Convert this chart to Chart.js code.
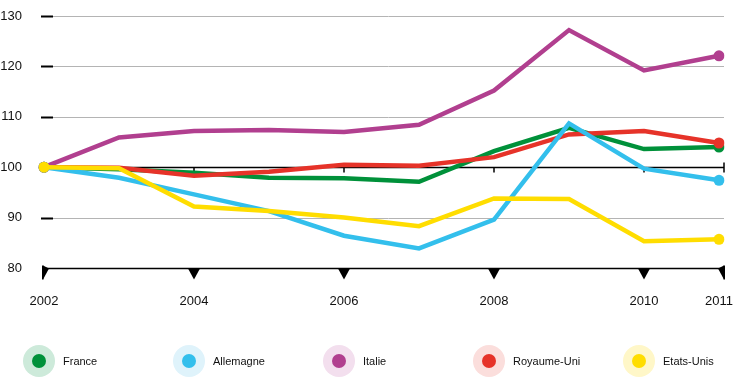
<!DOCTYPE html>
<html>
<head>
<meta charset="utf-8">
<script src="https://cdn.jsdelivr.net/npm/chart.js@4.4.1/dist/chart.umd.min.js"></script>
<style>
  html, body { margin: 0; padding: 0; background: #fff; }
  #wrap { position: relative; width: 738px; height: 389px; }
  #legend { position: absolute; left: 0; top: 345px; width: 738px; height: 32px; font-family: 'Liberation Sans', Arial, sans-serif; font-size: 11px; color: #111; }
  .item { position: absolute; top: 0; height: 32px; display: flex; align-items: center; }
  .halo { width: 32px; height: 32px; border-radius: 50%; display: flex; align-items: center; justify-content: center; margin-right: 8px; }
  .dot { width: 14px; height: 14px; border-radius: 50%; }
</style>
</head>
<body>
<div id="wrap">
  <canvas id="indexChart" width="738" height="389"></canvas>
  <div id="legend"></div>
</div>
<script>
const years = ['2002', '2003', '2004', '2005', '2006', '2007', '2008', '2009', '2010', '2011'];
const shownYears = ['2002', '2004', '2006', '2008', '2010', '2011'];
const yTicks = [80, 90, 100, 110, 120, 130];

const france = [100, 99.6, 98.9, 97.9, 97.8, 97.1, 103.2, 107.8, 103.6, 104.0];
const allemagne = [100, 97.9, 94.6, 91.3, 86.4, 83.9, 89.6, 108.7, 99.7, 97.4];
const italie = [100, 105.9, 107.2, 107.4, 107.0, 108.4, 115.2, 127.2, 119.2, 122.1];
const royaumeUni = [100, 99.9, 98.3, 99.1, 100.5, 100.3, 102.0, 106.5, 107.2, 104.8];
const etatsUnis = [100, 99.8, 92.2, 91.3, 90.0, 88.3, 93.8, 93.7, 85.3, 85.7];

const series = [
    { label: 'France', data: france, color: '#00913a', light: '#cdeada', order: 4 },
    { label: 'Allemagne', data: allemagne, color: '#33bfec', light: '#dff3fb', order: 1 },
    { label: 'Italie', data: italie, color: '#b13f8f', light: '#f3dfee', order: 2 },
    { label: 'Royaume-Uni', data: royaumeUni, color: '#e63329', light: '#fbdedc', order: 3 },
    { label: 'Etats-Unis', data: etatsUnis, color: '#ffdd00', light: '#fff7c8', order: 0 }
];

// grid, reference line at 100 and the bottom axis with its triangles
const axisDecor = {
    id: 'axisDecor',
    beforeDatasetsDraw(chart) {
        const { ctx, chartArea, scales } = chart;
        const x = scales.x, y = scales.y;
        const left = chartArea.left, right = chartArea.right + 5;
        const tickX = shownYears.map(yr => x.getPixelForValue(years.indexOf(yr)));
        ctx.save();
        yTicks.forEach(v => {
            const py = Math.round(y.getPixelForValue(v)) + 0.5;
            if (v === 80 || v === 100) return;
            ctx.strokeStyle = '#b4b4b4';
            ctx.lineWidth = 1;
            ctx.beginPath();
            ctx.moveTo(left + 9, py);
            ctx.lineTo(right, py);
            ctx.stroke();
            ctx.strokeStyle = '#000';
            ctx.lineWidth = 2;
            ctx.beginPath();
            ctx.moveTo(left - 3, py);
            ctx.lineTo(left + 9, py);
            ctx.stroke();
        });

        // line at 100
        const p100 = Math.round(y.getPixelForValue(100)) + 0.5;
        ctx.strokeStyle = '#000';
        ctx.lineWidth = 1.5;
        ctx.beginPath();
        ctx.moveTo(left - 3, p100);
        ctx.lineTo(right, p100);
        ctx.stroke();
        tickX.slice(1, -1).forEach(px => {
            ctx.beginPath();
            ctx.moveTo(px, p100);
            ctx.lineTo(px, p100 + 5);
            ctx.stroke();
        });
        ctx.beginPath();
        ctx.moveTo(right, p100 - 5);
        ctx.lineTo(right, p100 + 5);
        ctx.stroke();

        // bottom axis at 80
        const p80 = Math.round(y.getPixelForValue(80)) + 0.5;
        ctx.beginPath();
        ctx.moveTo(left - 1, p80);
        ctx.lineTo(right, p80);
        ctx.stroke();
        ctx.fillStyle = '#000';
        tickX.slice(1, -1).forEach(px => {
            ctx.beginPath();
            ctx.moveTo(px - 6, p80);
            ctx.lineTo(px + 6, p80);
            ctx.lineTo(px, p80 + 11);
            ctx.closePath();
            ctx.fill();
        });
        ctx.beginPath();
        ctx.moveTo(left - 1, p80 - 3);
        ctx.lineTo(left + 5, p80);
        ctx.lineTo(left - 1, p80 + 11);
        ctx.closePath();
        ctx.fill();
        ctx.fillRect(left - 2, p80 - 3, 1.5, 14);
        ctx.beginPath();
        ctx.moveTo(right - 6, p80);
        ctx.lineTo(right, p80 - 3);
        ctx.lineTo(right, p80 + 11);
        ctx.closePath();
        ctx.fill();
        ctx.fillRect(right - 0.5, p80 - 3, 1.5, 14);
        ctx.restore();
    }
};

const ctx = document.getElementById('indexChart').getContext('2d');
const indexChart = new Chart(ctx, {
    type: 'line',
    data: {
        labels: years,
        datasets: series.map(s => ({
            label: s.label,
            data: s.data,
            order: s.order,
            borderColor: s.color,
            backgroundColor: s.color,
            borderWidth: 4.5,
            tension: 0,
            fill: false,
            pointRadius: c => (c.dataIndex === 0 || c.dataIndex === years.length - 1) ? 5.5 : 0,
            pointBorderWidth: 0,
            pointBackgroundColor: s.color,
            pointHoverRadius: 0
        }))
    },
    options: {
        responsive: false,
        animation: false,
        devicePixelRatio: 1,
        layout: { padding: { top: 16, right: 19, left: 0, bottom: 0 } },
        plugins: {
            legend: { display: false },
            tooltip: { enabled: false }
        },
        scales: {
            x: {
                grid: { display: false, drawTicks: false },
                border: { display: false },
                ticks: {
                    autoSkip: false,
                    maxRotation: 0,
                    padding: 26,
                    color: '#111',
                    font: { family: "'Liberation Sans', Arial, sans-serif", size: 13 },
                    callback: function (val, i) {
                        const yr = years[i];
                        return shownYears.includes(yr) ? yr : '';
                    }
                },
                afterFit: scale => {
                    scale.height = 121;
                    scale.paddingLeft = 0;
                    scale.paddingRight = 0;
                }
            },
            y: {
                min: 80,
                max: 130,
                grid: { display: false, drawTicks: false },
                border: { display: false },
                ticks: {
                    stepSize: 10,
                    padding: 22,
                    color: '#111',
                    font: { family: "'Liberation Sans', Arial, sans-serif", size: 13 }
                },
                afterFit: scale => {
                    scale.width = 44;
                    scale.paddingTop = 0;
                    scale.paddingBottom = 0;
                }
            }
        }
    },
    plugins: [axisDecor]
});

// legend
const legendEl = document.getElementById('legend');
series.forEach((s, i) => {
    const item = document.createElement('div');
    item.className = 'item';
    item.style.left = (23 + i * 150) + 'px';
    item.innerHTML = '<div class="halo" style="background:' + s.light + '"><div class="dot" style="background:' + s.color + '"></div></div><span>' + s.label + '</span>';
    legendEl.appendChild(item);
});
</script>
</body>
</html>
